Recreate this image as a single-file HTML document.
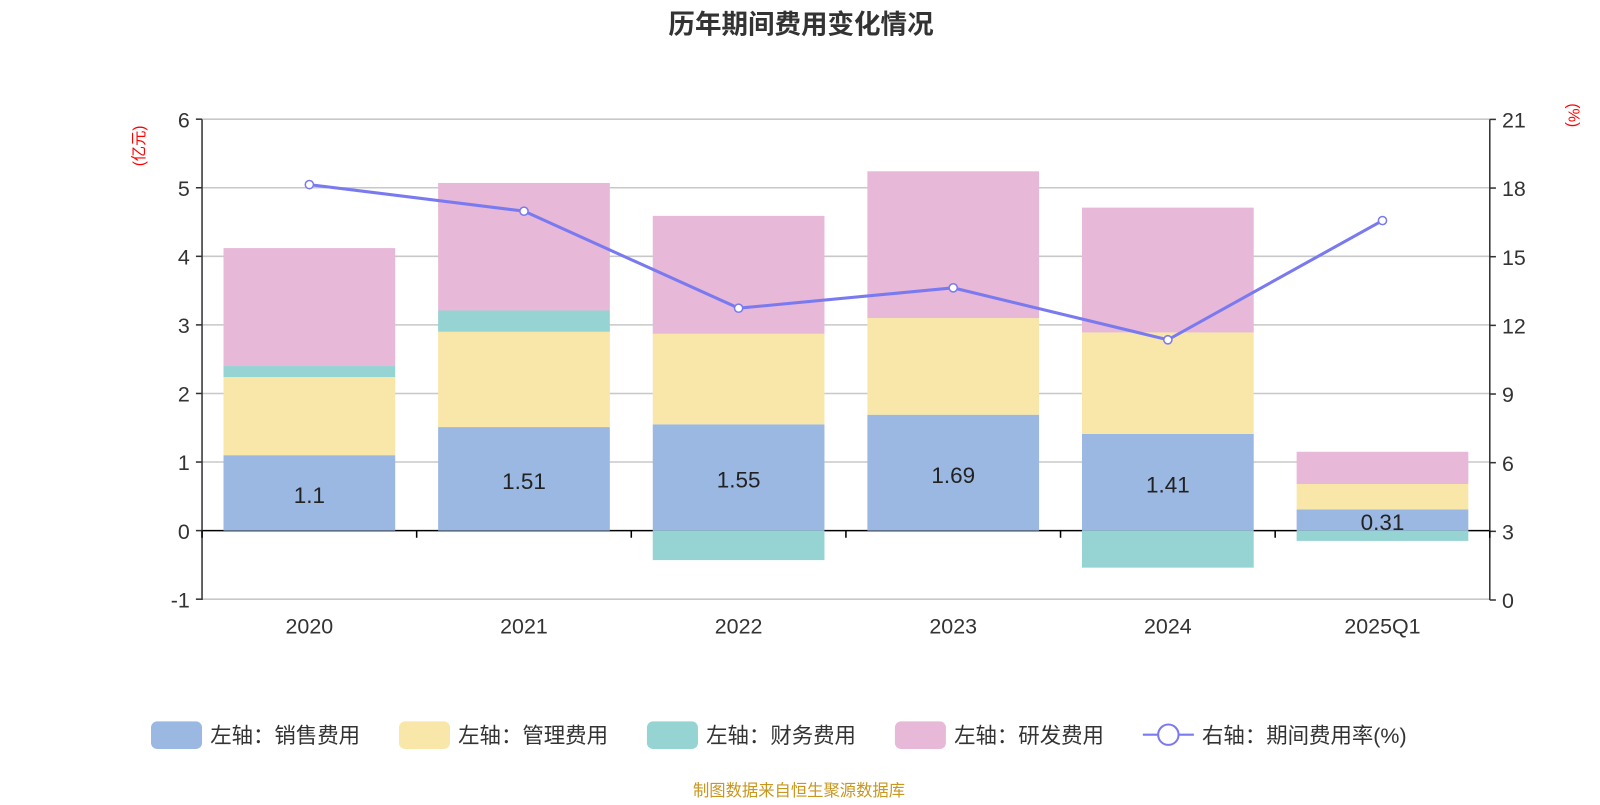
<!DOCTYPE html>
<html><head><meta charset="utf-8"><style>
body{margin:0;background:#fff;}
svg text{font-family:"Liberation Sans","Noto Sans CJK SC",sans-serif;}
</style></head><body>
<svg id="chart" width="1600" height="800" viewBox="0 0 1568 784" xmlns="http://www.w3.org/2000/svg">
<text x="785" y="33" text-anchor="middle" font-size="26" font-weight="bold" fill="#333">历年期间费用变化情况</text>
<g id="grid"></g><g id="bars"></g><g id="axes"></g><g id="line"></g><g id="labels"></g>
<text transform="translate(141,143) rotate(-90)" text-anchor="middle" font-size="15" fill="#f00">(亿元)</text>
<text transform="translate(1537,113) rotate(90)" text-anchor="middle" font-size="15" fill="#f00">(%)</text>
<g id="legend"></g>
<text x="783" y="780" text-anchor="middle" font-size="16" fill="#c9961e">制图数据来自恒生聚源数据库</text>
</svg>
<script>
const categories=["2020","2021","2022","2023","2024","2025Q1"];
const sales=[1.1,1.51,1.55,1.69,1.41,0.31];
const admin=[1.14,1.39,1.32,1.41,1.48,0.37];
const finance=[0.16,0.31,-0.43,0.01,-0.54,-0.15];
const rnd=[1.72,1.86,1.72,2.13,1.82,0.47];
const rate=[18.15,16.99,12.75,13.64,11.37,16.58];
const leftTicks=[-1,0,1,2,3,4,5,6];
const rightTicks=[0,3,6,9,12,15,18,21];
const NS="http://www.w3.org/2000/svg";
const X0=198,X1=1460,TOP=117,BOT=588;
const yL=v=>520-v*67.2;
const yR=v=>BOT-v*(BOT-TOP)/21;
const bw=(X1-X0)/categories.length;
const xc=i=>X0+bw*(i+0.5);
function mk(p,tag,attrs){const e=document.createElementNS(NS,tag);for(const k in attrs)e.setAttribute(k,attrs[k]);document.getElementById(p).appendChild(e);return e;}
leftTicks.forEach(t=>{
 const y=yL(t);
 const g=mk('grid','line',{x1:X0,x2:X1,y1:y,y2:y,stroke:t===0?'#000':'#c8c8c8','stroke-width':1.5});
 
 
 const tk=mk('axes','line',{x1:X0-6,x2:X0,y1:y,y2:y,stroke:'#333','stroke-width':1.5});
 
 
 const tx=mk('axes','text',{x:X0-12,y:y+8,'text-anchor':'end','font-size':21,fill:'#333'});tx.textContent=t;
 
 
});
rightTicks.forEach(t=>{
 const y=yR(t);
 const tk=mk('axes','line',{x1:X1,x2:X1+6,y1:y,y2:y,stroke:'#333','stroke-width':1.5});
 
 
 const tx=mk('axes','text',{x:X1+12,y:y+8,'font-size':21,fill:'#333'});tx.textContent=t;
 
 
});
let a=mk('axes','line',{x1:X0,x2:X0,y1:TOP,y2:BOT,stroke:'#333','stroke-width':1.5});

a=mk('axes','line',{x1:X1,x2:X1,y1:TOP,y2:BOT,stroke:'#333','stroke-width':1.5});

for(let i=0;i<=categories.length;i++){
 const t=mk('axes','line',{x1:X0+bw*i,x2:X0+bw*i,y1:520,y2:527,stroke:'#000','stroke-width':1.5});
 
 
}
const colors=['#9bb8e2','#f8e7a8','#96d3d3','#e7b8d8'];
const series=[sales,admin,finance,rnd];
const snames=['sales','admin','finance','rnd'];
categories.forEach((c,i)=>{
 let pos=0,neg=0;const x=xc(i)-bw*0.4,w=bw*0.8;
 series.forEach((s,k)=>{
  const v=s[i];let y0,y1;
  if(v>=0){y0=pos;y1=pos+v;pos=y1;}else{y0=neg;y1=neg+v;neg=y1;}
  const r=mk('bars','rect',{x:x,width:w,y:Math.min(yL(y0),yL(y1)),height:Math.abs(yL(y1)-yL(y0)),fill:colors[k]});
  
  
 });
 const l=mk('labels','text',{x:xc(i),y:(yL(0)+yL(sales[i]))/2+10,'text-anchor':'middle','font-size':22,fill:'#222'});l.textContent=sales[i];
 
 
 const xl=mk('axes','text',{x:xc(i),y:621,'text-anchor':'middle','font-size':21,fill:'#333'});xl.textContent=c;
 
 
});
const pl=mk('line','polyline',{points:rate.map((v,i)=>xc(i)+','+yR(v)).join(' '),fill:'none',stroke:'#7a7af0','stroke-width':3});


rate.forEach((v,i)=>{
 const p=mk('line','circle',{cx:xc(i),cy:yR(v),r:4,fill:'#fff',stroke:'#7a7af0','stroke-width':1.5});
 
 
});
const legs=[['左轴：销售费用',148],['左轴：管理费用',391],['左轴：财务费用',634],['左轴：研发费用',877]];
legs.forEach((L,k)=>{
 const r=mk('legend','rect',{x:L[1],y:707,width:50,height:27,rx:6,fill:colors[k]});
 
 
 const t=mk('legend','text',{x:L[1]+58,y:728,'font-size':21,fill:'#333'});t.textContent=L[0];
 
 
});
let ll=mk('legend','line',{x1:1120,x2:1170,y1:720,y2:720,stroke:'#7a7af0','stroke-width':2});

ll=mk('legend','circle',{cx:1145,cy:720,r:10,fill:'#fff',stroke:'#7a7af0','stroke-width':2});

const lt=mk('legend','text',{x:1178,y:728,'font-size':21,fill:'#333'});lt.textContent='右轴：期间费用率(%)';


</script>
</body></html>
